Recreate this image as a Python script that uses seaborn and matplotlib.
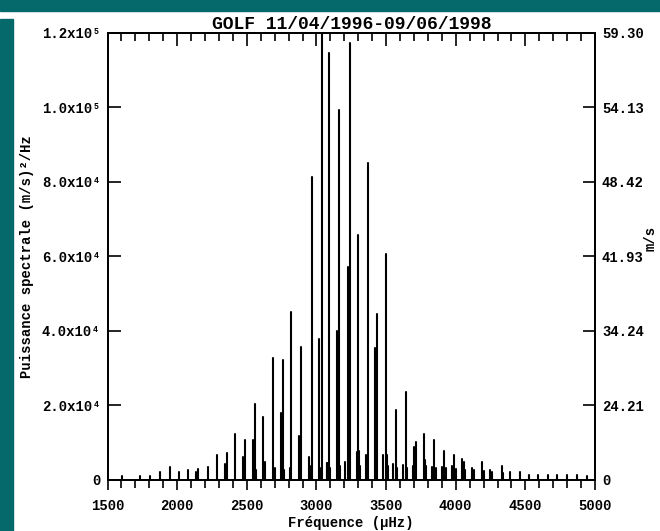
import numpy as np
import pandas as pd
import matplotlib
matplotlib.use("Agg")
import matplotlib.pyplot as plt
import seaborn as sns
from matplotlib.patches import Rectangle

# ---------------- data ----------------
title = "GOLF 11/04/1996-09/06/1998"
x_label = "Fréquence (µHz)"
y_label = "Puissance spectrale (m/s)²/Hz"
y2_label = "m/s"

# p-mode peaks: frequency (µHz) and power ((m/s)^2/Hz)
freq_uhz = [1602, 1733, 1805, 1880, 1949, 2011, 2080, 2135, 2148, 2224,
            2284, 2344, 2356, 2415, 2471, 2487, 2545, 2559, 2619, 2629,
            2690, 2749, 2758, 2812, 2817, 2876, 2889, 2947, 2966, 3021,
            3038, 3074, 3092, 3151, 3164, 3225, 3241, 3296, 3306, 3354,
            3367, 3424, 3435, 3500, 3505, 3571, 3643, 3700, 3715, 3772,
            3783, 3844, 3914, 3973, 3986, 4045, 4062, 4117, 4187, 4248,
            4332, 4392, 4464, 4526, 4594, 4665, 4727, 4797, 4869, 4940]
power = [900, 900, 900, 2100, 3300, 2100, 2600, 2000, 2700, 3300,
         6600, 4300, 7200, 12200, 6100, 10600, 10500, 20300, 16900, 4800,
         32600, 17900, 32100, 3000, 45100, 11700, 35500, 6100, 81400, 37700,
         125000, 4400, 114500, 40000, 99300, 57200, 117200, 65700, 7600, 6600,
         85000, 35400, 44500, 60600, 6600, 18600, 23600, 8800, 10000, 12200,
         5300, 10600, 7700, 3600, 6600, 5400, 4800, 3200, 4800, 2550,
         3650, 2100, 2100, 1300, 1200, 1200, 1100, 1100, 1100, 900]

# small humps at the foot of the peaks
lump_freq = [2563, 2700, 2768, 2955, 3030, 3078, 3100, 3172, 3205, 3291,
             3315, 3362, 3478, 3511, 3550, 3580, 3622, 3650, 3694, 3790,
             3830, 3860, 3900, 3930, 4000, 4070, 4130, 4200, 4260, 4340]
lump_power = [2500, 3000, 2500, 3500, 3000, 4400, 3200, 3500, 4600, 7500,
              3500, 4000, 6600, 3500, 4200, 3000, 4000, 3000, 3500, 3500,
              3300, 3000, 3300, 3000, 2800, 2500, 2500, 2200, 2000, 1800]

x_ticks = [1500, 2000, 2500, 3000, 3500, 4000, 4500, 5000]
x_minor_step = 100
y_ticks = [0, 20000, 40000, 60000, 80000, 100000, 120000]
y_tick_labels = ["0", "2.0x10⁴", "4.0x10⁴", "6.0x10⁴", "8.0x10⁴",
                 "1.0x10⁵", "1.2x10⁵"]
amp_tick_labels = ["0", "24.21", "34.24", "41.93", "48.42", "54.13", "59.30"]

# ---------------- style ----------------
sns.set_theme(style="ticks")
plt.rcParams["font.family"] = ["Liberation Mono", "DejaVu Sans Mono"]
plt.rcParams["font.weight"] = "bold"
plt.rcParams["axes.edgecolor"] = "black"
plt.rcParams["xtick.color"] = "black"
plt.rcParams["ytick.color"] = "black"
plt.rcParams["text.color"] = "black"
plt.rcParams["axes.labelcolor"] = "black"

W, H = 660, 531
fig = plt.figure(figsize=(W / 100, H / 100), dpi=100, facecolor="white")

teal = "#05696b"
fig.add_artist(Rectangle((0, 1 - 11 / H), 1, 11 / H, transform=fig.transFigure,
                         color=teal, zorder=0))
fig.add_artist(Rectangle((0, 0), 13 / W, (H - 19) / H, transform=fig.transFigure,
                         color=teal, zorder=0))

L, R, T, B = 107.5, 595, 33, 479.5
ax = fig.add_axes([L / W, 1 - B / H, (R - L) / W, (B - T) / H])
ax.set_facecolor("white")

# stems data
rows = []
pid = 0
for f, p in list(zip(freq_uhz, power)) + list(zip(lump_freq, lump_power)):
    rows.append((pid, f, 0.0))
    rows.append((pid, f, p))
    pid += 1
stems = pd.DataFrame(rows, columns=["peak", "freq", "power"])

sns.lineplot(data=stems, x="freq", y="power", units="peak", estimator=None,
             sort=False, color="black", lw=1.5, ax=ax, legend=False)

ax.set_xlim(1500, 5000)
ax.set_ylim(0, 120000)

for s in ax.spines.values():
    s.set_linewidth(1.3)
    s.set_color("black")

ax.set_xticks(x_ticks)
ax.set_xticks(np.arange(x_ticks[0], x_ticks[-1] + 1, x_minor_step), minor=True)
ax.set_xticklabels([str(v) for v in x_ticks])
ax.tick_params(axis="x", which="major", direction="out", length=7, width=1.2,
               pad=7, labelsize=10, top=False)
ax.tick_params(axis="x", which="minor", direction="out", length=6, width=1.2,
               top=False)

top = ax.secondary_xaxis("top")
top.set_xticks(x_ticks)
top.set_xticks(np.arange(x_ticks[0], x_ticks[-1] + 1, x_minor_step), minor=True)
top.tick_params(axis="x", which="major", direction="in", length=9, width=1.2,
                labeltop=False)
top.tick_params(axis="x", which="minor", direction="in", length=6, width=1.2)
top.spines["top"].set_linewidth(1.3)

ax.set_yticks(y_ticks)
ax.set_yticklabels(y_tick_labels)
ax.tick_params(axis="y", which="major", direction="in", length=9, width=1.2,
               pad=5, labelsize=10, right=False)

ax2 = ax.twinx()
ax2.set_ylim(ax.get_ylim())
ax2.set_yticks(y_ticks)
ax2.set_yticklabels(amp_tick_labels)
ax2.tick_params(axis="y", which="major", direction="in", length=9, width=1.2,
                pad=5, labelsize=10)
for s in ax2.spines.values():
    s.set_linewidth(1.3)
    s.set_color("black")

ax.set_xlabel(x_label, fontsize=10, fontweight="bold")
ax.xaxis.set_label_coords(0.5, (B - 516) / (B - T))
ax.set_ylabel(y_label, fontsize=10, fontweight="bold")
ax.yaxis.set_label_coords((34 - L) / (R - L), 0.5)
ax2.set_ylabel(y2_label, fontsize=10, fontweight="bold", rotation=90)
ax2.yaxis.set_label_coords((644 - L) / (R - L), 0.54)

ax.set_title(title, fontsize=13, fontweight="bold", pad=2)

fig.savefig("out.png", dpi=100, facecolor="white")
